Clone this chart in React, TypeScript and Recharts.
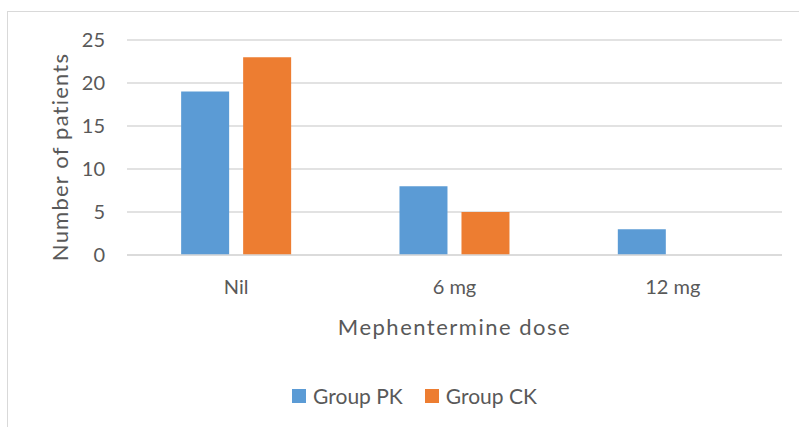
import {
  BarChart,
  Bar,
  XAxis,
  YAxis,
  CartesianGrid,
  Legend,
} from "recharts";

const categories = ["Nil", "6 mg", "12 mg"];
const groupPK = [19, 8, 3];
const groupCK = [23, 5, 0];
const yTicks = [0, 5, 10, 15, 20, 25];

const data = categories.map((name, i) => ({
  name,
  pk: groupPK[i],
  ck: groupCK[i],
}));

const FONT = "Lato, 'Open Sans', sans-serif";
const TEXT = "#595959";
const GRID = "#D9D9D9";
const BLUE = "#5B9BD5";
const ORANGE = "#ED7D31";

function LegendBox() {
  const items = [
    { label: "Group PK", color: BLUE },
    { label: "Group CK", color: ORANGE },
  ];
  return (
    <div
      style={{
        display: "flex",
        justifyContent: "center",
        alignItems: "center",
        gap: 22,
        fontFamily: FONT,
        fontSize: 21,
        color: TEXT,
      }}
    >
      {items.map((it) => (
        <div key={it.label} style={{ display: "flex", alignItems: "center" }}>
          <span
            style={{
              display: "inline-block",
              width: 14,
              height: 14,
              background: it.color,
              marginRight: 7,
            }}
          />
          {it.label}
        </div>
      ))}
    </div>
  );
}

export default function App() {
  return (
    <div
      style={{
        position: "fixed",
        left: 0,
        top: 0,
        width: 799,
        height: 427,
        overflow: "hidden",
        background: "#fff",
      }}
    >
      <div
        style={{
          position: "absolute",
          left: 7,
          top: 11,
          width: 820,
          height: 440,
          border: `1px solid ${GRID}`,
        }}
      />
      <div style={{ position: "absolute", left: 0, top: 0 }}>
        <BarChart
          width={799}
          height={427}
          data={data}
          margin={{ top: 40, right: 17, bottom: 92, left: 37 }}
          barCategoryGap="24.8%"
          barGap={14}
        >
          <CartesianGrid vertical={false} stroke={GRID} strokeWidth={1.5} />
          <XAxis
            dataKey="name"
            height={80}
            tickLine={false}
            tickSize={0}
            tickMargin={25}
            axisLine={{ stroke: GRID, strokeWidth: 1.5 }}
            tick={{ fill: TEXT, fontSize: 20, fontFamily: FONT }}
            label={({ viewBox }: any) => (
              <text
                x={viewBox.x + viewBox.width / 2}
                y={335}
                textAnchor="middle"
                fill={TEXT}
                fontSize={22}
                fontFamily={FONT}
                letterSpacing={1.5}
              >
                Mephentermine dose
              </text>
            )}
          />
          <YAxis
            width={90}
            domain={[0, 25]}
            ticks={yTicks}
            tickLine={false}
            tickSize={0}
            tickMargin={22}
            axisLine={false}
            tick={{ fill: TEXT, fontSize: 20, fontFamily: FONT }}
            label={() => (
              <text
                x={0}
                y={0}
                transform="translate(68 157) rotate(-90)"
                textAnchor="middle"
                fill={TEXT}
                fontSize={22}
                fontFamily={FONT}
                letterSpacing={1.2}
              >
                Number of patients
              </text>
            )}
          />
          <Legend
            layout="horizontal"
            verticalAlign="middle"
            align="center"
            wrapperStyle={{ top: 383, left: 15, width: 799 }}
            content={() => <LegendBox />}
          />
          <Bar dataKey="pk" name="Group PK" fill={BLUE} isAnimationActive={false} />
          <Bar dataKey="ck" name="Group CK" fill={ORANGE} isAnimationActive={false} />
        </BarChart>
      </div>
    </div>
  );
}
